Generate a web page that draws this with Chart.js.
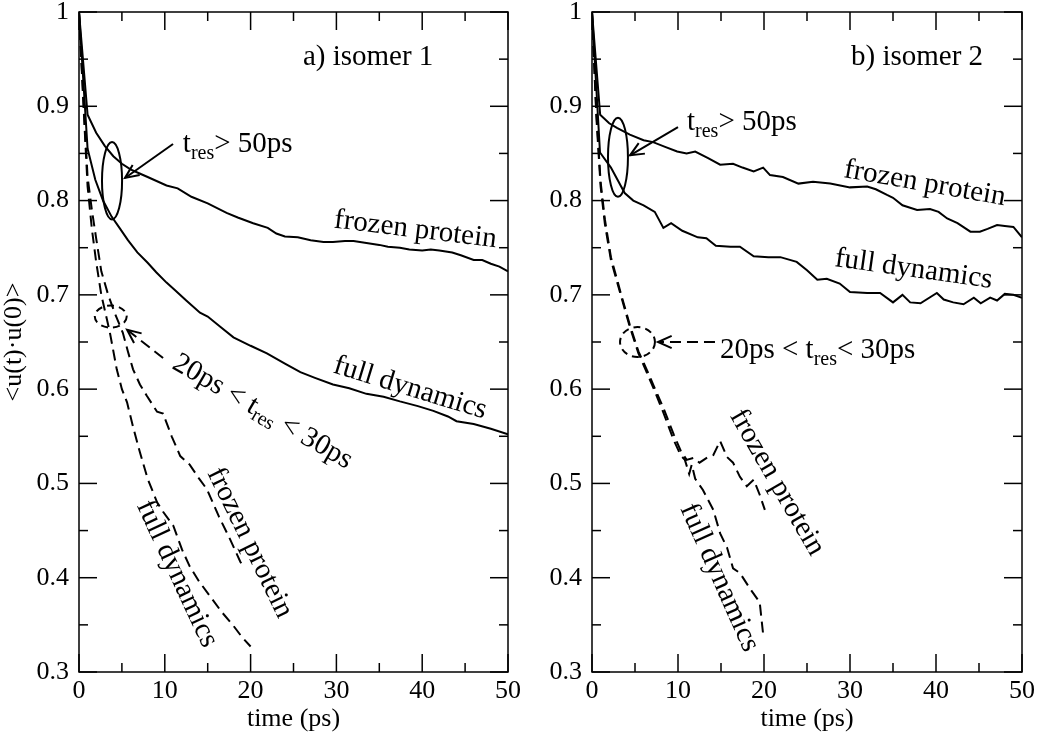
<!DOCTYPE html>
<html><head><meta charset="utf-8">
<script src="https://cdn.jsdelivr.net/npm/chart.js@4/dist/chart.umd.min.js"></script>
<style>
html,body{margin:0;padding:0;background:#fff;}
#wrap{position:relative;width:1050px;height:738px;overflow:hidden;}
canvas{position:absolute;top:0;}
</style></head><body>
<div id="wrap"><canvas id="ca" width="530" height="738" style="left:0"></canvas><canvas id="cb" width="520" height="738" style="left:530px"></canvas></div>
<script>
// ---------- tick values / labels ----------
const xTicks=[0,10,20,30,40,50];
const xTickLabels=['0','10','20','30','40','50'];
const xMinor=[5,15,25,35,45];
const yTicks=[0.3,0.4,0.5,0.6,0.7,0.8,0.9,1];
const yTickLabels=['0.3','0.4','0.5','0.6','0.7','0.8','0.9','1'];
const yMinor=[0.35,0.45,0.55,0.65,0.75,0.85,0.95];

// ---------- panel a) isomer 1 ----------
const aFrozenT=[0,1,2,3,4,5,6,7,8,10.2,11.5,13.1,15,17.2,18.5,20.3,22,23,24,25.5,27,28.5,29.6,31,32,33.5,35,36,37.4,38.5,40,41,42,43.5,44.5,46,47,48,49,50];
const aFrozenV=[1,0.891,0.872,0.858,0.847,0.839,0.833,0.829,0.825,0.816,0.813,0.804,0.797,0.787,0.782,0.776,0.771,0.765,0.762,0.761,0.758,0.756,0.756,0.757,0.757,0.755,0.753,0.751,0.750,0.748,0.747,0.748,0.747,0.745,0.742,0.737,0.737,0.733,0.730,0.725];
const aFullT=[0,1,1.9,2.8,3.8,4.8,5.7,6.8,8,9,10.2,11.2,12.5,14.1,15,16.5,18,20,21.9,24,25.8,27.5,29.6,31.5,33.5,35.5,37.4,39.5,41.3,43,44,46,48,50];
const aFullV=[1,0.855,0.822,0.80,0.783,0.77,0.758,0.745,0.734,0.724,0.713,0.705,0.694,0.681,0.677,0.666,0.655,0.646,0.638,0.627,0.618,0.612,0.605,0.601,0.595,0.592,0.587,0.582,0.577,0.571,0.566,0.563,0.558,0.552];
const aFrozenMidT=[0,0.5,1,1.5,2,2.6,3.4,4.2,5.1,5.7,6.3,7.1,7.9,9.1,9.8,10.8,11.8,12.9,14,14.9,16.3,17.6,18.8,19];
const aFrozenMidV=[1,0.91,0.825,0.79,0.76,0.725,0.70,0.68,0.66,0.64,0.621,0.605,0.593,0.576,0.574,0.55,0.529,0.52,0.505,0.494,0.465,0.441,0.417,0.414];
const aFullMidT=[0,0.5,1,1.5,2,2.6,3.1,3.6,4.4,5,5.6,6.3,7.1,8,9.1,9.8,11,12,12.9,14,15.3,16.6,18,19,20];
const aFullMidV=[1,0.905,0.815,0.77,0.735,0.70,0.68,0.66,0.621,0.60,0.586,0.56,0.533,0.505,0.48,0.47,0.455,0.43,0.412,0.396,0.38,0.364,0.349,0.337,0.327];

// ---------- panel b) isomer 2 ----------
const bFrozenT=[0,0.95,2,2.9,4.4,6,7.1,8.5,9.9,11,12,13.5,14.9,16.4,17.5,18.8,19.9,20.7,22.2,24,25.7,27.7,30,32,33,34.3,35,36.1,37.8,39.3,40.3,41.3,42.5,44,45.1,46,47.1,48,49,50];
const bFrozenV=[1,0.891,0.882,0.877,0.870,0.864,0.862,0.857,0.852,0.850,0.852,0.845,0.838,0.839,0.835,0.831,0.835,0.827,0.825,0.818,0.820,0.818,0.814,0.815,0.812,0.806,0.803,0.795,0.790,0.791,0.788,0.781,0.776,0.767,0.767,0.770,0.774,0.773,0.772,0.761];
const bFullT=[0,0.93,2.2,3.8,4.8,6,7.3,8.3,9.2,10.5,12.3,13.3,14.4,16.1,17.2,18.8,20.5,21.9,23.8,25,26.2,27.3,28.8,30,32,33.5,35,36.1,37,38.2,40.1,40.9,42,43.2,44.4,45.2,46.3,47.1,48,49,50];
const bFullV=[1,0.851,0.835,0.808,0.80,0.795,0.788,0.771,0.776,0.768,0.761,0.760,0.752,0.751,0.751,0.741,0.740,0.740,0.735,0.726,0.716,0.717,0.712,0.703,0.702,0.702,0.692,0.700,0.692,0.691,0.702,0.695,0.692,0.690,0.697,0.691,0.697,0.694,0.701,0.700,0.697];
const bFrozenMidT=[0,0.5,1,1.5,2.2,3.4,4.4,5.4,6.4,7.2,8.3,9.5,10.3,11,11.8,12.5,13.5,14.1,14.9,15.7,16.4,17.2,18,18.8,19.5,20.1];
const bFrozenMidV=[1,0.895,0.82,0.78,0.74,0.70,0.668,0.64,0.62,0.603,0.58,0.552,0.535,0.525,0.527,0.522,0.528,0.53,0.545,0.528,0.522,0.507,0.497,0.504,0.488,0.472];
const bFullMidT=[0,0.5,1,1.5,2.2,3.4,4.4,5.4,6.4,7.2,8.3,9.5,10.3,10.8,11.3,11.6,12,12.9,14.1,14.9,15.7,16.4,17.2,18.4,19.5,19.9,20];
const bFullMidV=[1,0.89,0.815,0.775,0.737,0.698,0.666,0.638,0.617,0.60,0.575,0.546,0.53,0.525,0.51,0.52,0.505,0.493,0.472,0.447,0.432,0.41,0.405,0.388,0.374,0.34,0.336];

const F='"Liberation Serif","Times New Roman",serif';

function pts(T,V){return T.map((t,i)=>({x:t,y:V[i]}));}
function ds(T,V,dashed){return {data:pts(T,V),borderColor:'#000',borderWidth:2,borderDash:dashed?[11,6]:[],pointRadius:0,tension:0,fill:false};}

function scales(yw,showTitle){
  return {
    x:{type:'linear',min:0,max:50,position:'bottom',
      afterBuildTicks:s=>{s.ticks=xTicks.map(v=>({value:v}));},
      ticks:{font:{family:F,size:26},color:'#000',padding:4,maxRotation:0,autoSkip:false,callback:(v,i)=>xTickLabels[i]},
      grid:{display:false,drawTicks:false},border:{display:false},
      title:{display:true,text:'time (ps)',font:{family:F,size:26},color:'#000',padding:{top:0,bottom:3}},
      afterFit:s=>{s.height=66;s.paddingLeft=0;s.paddingRight=0;}},
    y:{type:'linear',min:0.3,max:1,position:'left',
      afterBuildTicks:s=>{s.ticks=yTicks.map(v=>({value:v}));},
      ticks:{font:{family:F,size:26},color:'#000',padding:10,autoSkip:false,callback:(v,i)=>yTickLabels[i]},
      grid:{display:false,drawTicks:false},border:{display:false},
      title:{display:showTitle,text:'<u(t)\u00b7u(0)>',font:{family:F,size:26,lineHeight:1},color:'#000',padding:{top:1,bottom:0}},
      afterFit:s=>{s.width=yw;s.paddingTop=0;s.paddingBottom=0;}}
  };
}

const frame={id:'frame',afterDraw(c){
  const {ctx,chartArea:a,scales:{x,y}}=c;
  ctx.save();ctx.strokeStyle='#000';ctx.lineWidth=1.5;ctx.setLineDash([]);
  ctx.strokeRect(a.left,a.top,a.right-a.left,a.bottom-a.top);
  const L=(x1,y1,x2,y2)=>{ctx.beginPath();ctx.moveTo(x1,y1);ctx.lineTo(x2,y2);ctx.stroke();};
  xTicks.forEach(v=>{const p=x.getPixelForValue(v);L(p,a.bottom,p,a.bottom-18);L(p,a.top,p,a.top+18);});
  xMinor.forEach(v=>{const p=x.getPixelForValue(v);L(p,a.bottom,p,a.bottom-9);L(p,a.top,p,a.top+9);});
  yTicks.forEach(v=>{const p=y.getPixelForValue(v);L(a.left,p,a.left+18,p);L(a.right,p,a.right-18,p);});
  yMinor.forEach(v=>{const p=y.getPixelForValue(v);L(a.left,p,a.left+9,p);L(a.right,p,a.right-9,p);});
  ctx.restore();
}};

function notesPlugin(notes){
  return {id:'notes',afterDatasetsDraw(c){
    const {ctx,scales:{x,y}}=c;
    ctx.save();ctx.fillStyle='#000';ctx.strokeStyle='#000';
    notes.forEach(n=>{
      if(n.type==='text'){
        const px=x.getPixelForValue(n.x),py=y.getPixelForValue(n.y);
        ctx.save();ctx.translate(px,py);ctx.rotate((n.angle||0)*Math.PI/180);
        ctx.textBaseline=n.baseline||'middle';ctx.textAlign='left';
        let w=0;n.runs.forEach(r=>{ctx.font=r[1]+'px '+F;w+=ctx.measureText(r[0]).width;});
        let cx=n.align==='left'?0:-w/2;
        n.runs.forEach(r=>{ctx.font=r[1]+'px '+F;ctx.fillText(r[0],cx,r[2]||0);cx+=ctx.measureText(r[0]).width;});
        ctx.restore();
      } else if(n.type==='ellipse'){
        const px=x.getPixelForValue(n.x),py=y.getPixelForValue(n.y);
        const rx=Math.abs(x.getPixelForValue(n.x+n.rx)-px),ry=Math.abs(y.getPixelForValue(n.y+n.ry)-py);
        ctx.lineWidth=2;ctx.setLineDash(n.dash?[7,5]:[]);
        ctx.beginPath();ctx.ellipse(px,py,rx,ry,0,0,Math.PI*2);ctx.stroke();
      } else if(n.type==='arrow'){
        const x1=x.getPixelForValue(n.x1),y1=y.getPixelForValue(n.y1),x2=x.getPixelForValue(n.x2),y2=y.getPixelForValue(n.y2);
        ctx.lineWidth=2;ctx.setLineDash(n.dash?[11,6]:[]);
        ctx.beginPath();ctx.moveTo(x1,y1);ctx.lineTo(x2,y2);ctx.stroke();
        ctx.setLineDash([]);
        const ang=Math.atan2(y2-y1,x2-x1),hl=15,ha=0.42;
        ctx.beginPath();
        ctx.moveTo(x2-hl*Math.cos(ang-ha),y2-hl*Math.sin(ang-ha));ctx.lineTo(x2,y2);
        ctx.lineTo(x2-hl*Math.cos(ang+ha),y2-hl*Math.sin(ang+ha));ctx.stroke();
      }
    });
    ctx.restore();
  }};
}

const notesA=[
  {type:'text',runs:[['a) isomer 1',29]],x:33.7,y:0.944,baseline:'alphabetic'},
  {type:'text',runs:[['t',29],['res',20,7],['> 50ps',29]],x:12.1,y:0.8515,align:'left',baseline:'alphabetic'},
  {type:'ellipse',x:3.85,y:0.821,rx:1.17,ry:0.041},
  {type:'arrow',x1:10.96,y1:0.86,x2:5.36,y2:0.824},
  {type:'ellipse',x:3.7,y:0.677,rx:1.86,ry:0.0117,dash:true},
  {type:'arrow',x1:9.8,y1:0.633,x2:5.6,y2:0.663,dash:true},
  {type:'text',runs:[['20ps < t',29],['res',20,7],[' < 30ps',29]],x:21.4,y:0.576,angle:30},
  {type:'text',runs:[['frozen protein',29]],x:39.2,y:0.769,angle:7},
  {type:'text',runs:[['full dynamics',29]],x:38.6,y:0.601,angle:17},
  {type:'text',runs:[['frozen protein',29]],x:19.9,y:0.437,angle:64},
  {type:'text',runs:[['full dynamics',29]],x:11.4,y:0.404,angle:65}
];
const notesB=[
  {type:'text',runs:[['b) isomer 2',29]],x:37.8,y:0.944,baseline:'alphabetic'},
  {type:'text',runs:[['t',29],['res',20,7],['> 50ps',29]],x:11.05,y:0.875,align:'left',baseline:'alphabetic'},
  {type:'ellipse',x:3.02,y:0.846,rx:1.16,ry:0.0419},
  {type:'arrow',x1:10,y1:0.878,x2:4.42,y2:0.848},
  {type:'ellipse',x:5.29,y:0.65,rx:2.03,ry:0.0159,dash:true},
  {type:'arrow',x1:14.3,y1:0.65,x2:7.67,y2:0.65,dash:true},
  {type:'text',runs:[['20ps < t',29],['res',20,7],['< 30ps',29]],x:14.88,y:0.633,align:'left',baseline:'alphabetic'},
  {type:'text',runs:[['frozen protein',29]],x:38.7,y:0.818,angle:10},
  {type:'text',runs:[['full dynamics',29]],x:37.4,y:0.727,angle:8},
  {type:'text',runs:[['frozen protein',29]],x:21.5,y:0.501,angle:60},
  {type:'text',runs:[['full dynamics',29]],x:14.8,y:0.40,angle:66}
];

function make(id,sets,yw,showTitle,rightPad,notes){
  return new Chart(document.getElementById(id),{
    type:'line',
    data:{datasets:sets},
    options:{responsive:false,animation:false,parsing:false,
      layout:{padding:{left:0,right:rightPad,top:12,bottom:0}},
      plugins:{legend:{display:false},tooltip:{enabled:false}},
      scales:scales(yw,showTitle)},
    plugins:[frame,notesPlugin(notes)]
  });
}
make('ca',[ds(aFrozenT,aFrozenV,false),ds(aFullT,aFullV,false),ds(aFrozenMidT,aFrozenMidV,true),ds(aFullMidT,aFullMidV,true)],79,true,22,notesA);
make('cb',[ds(bFrozenT,bFrozenV,false),ds(bFullT,bFullV,false),ds(bFrozenMidT,bFrozenMidV,true),ds(bFullMidT,bFullMidV,true)],62,false,28,notesB);
</script></body></html>
